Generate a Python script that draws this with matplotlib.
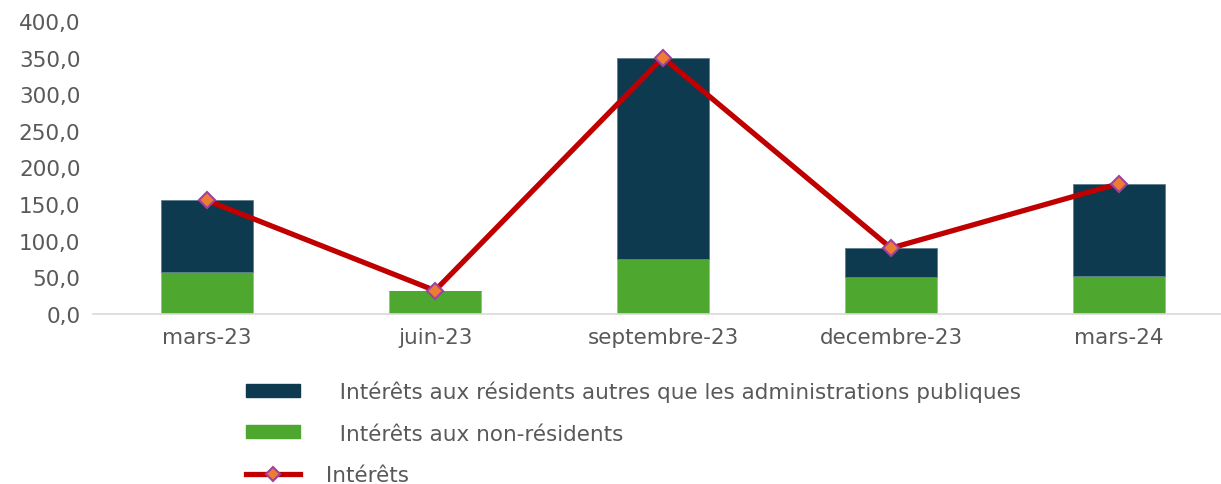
import matplotlib
matplotlib.use("Agg")
import matplotlib.pyplot as plt
from matplotlib.patches import Patch
from matplotlib.lines import Line2D

categories = ["mars-23", "juin-23", "septembre-23", "decembre-23", "mars-24"]
non_residents = [57.5, 31.5, 74.5, 50.0, 52.0]
residents = [97.5, 0.5, 275.5, 40.0, 126.0]
interets = [155.0, 32.0, 350.0, 90.0, 178.0]
yticks = [0, 50, 100, 150, 200, 250, 300, 350, 400]

plt.rcParams['font.family'] = ['DejaVu Sans']
fig = plt.figure(figsize=(12.21, 4.85), dpi=100)
ax = fig.add_axes([93/1221, 1 - 315/485, (1233 - 93)/1221, (315 - 22)/485])

x = list(range(len(categories)))
dark = "#0E3A4F"
green = "#4EA72E"
ax.bar(x, non_residents, width=0.4, color=green, edgecolor="#8fc77a", linewidth=0.6, zorder=2)
ax.bar(x, residents, width=0.4, bottom=non_residents, color=dark, edgecolor="#5d7f8f", linewidth=0.6, zorder=2)
ax.plot(x, interets, color="#C00000", linewidth=3.8, marker="D", markersize=8,
        markerfacecolor="#ED7D31", markeredgecolor="#A040A0", markeredgewidth=1.5, zorder=3)

ax.set_xlim(-0.5, 4.5)
ax.set_ylim(0, 400)
ax.set_yticks(yticks)
ax.set_yticklabels([f"{v:.1f}".replace(".", ",") for v in yticks])
ax.set_xticks(x)
ax.set_xticklabels(categories)
for s in ["top", "right", "left"]:
    ax.spines[s].set_visible(False)
ax.spines["bottom"].set_color("#d9d9d9")
ax.spines["bottom"].set_linewidth(1.2)
ax.tick_params(axis="x", length=0, labelsize=15.5, colors="#595959", pad=9)
ax.tick_params(axis="y", length=0, labelsize=15.5, colors="#595959", pad=9)

handles = [
    Patch(facecolor=dark, edgecolor=dark),
    Patch(facecolor=green, edgecolor=green),
    Line2D([0], [0], color="#C00000", linewidth=3.8, marker="D", markersize=7,
           markerfacecolor="#ED7D31", markeredgecolor="#A040A0", markeredgewidth=1.5),
]
labels = ["   Intérêts aux résidents autres que les administrations publiques",
          "   Intérêts aux non-résidents",
          " Intérêts"]
leg = fig.legend(handles, labels, loc="upper left", bbox_to_anchor=(246/1221, 1 - 382/485),
                 frameon=False, fontsize=15.5, labelcolor="#595959", handlelength=2.5,
                 handleheight=0.55, labelspacing=0.98, handletextpad=0.9, borderpad=0,
                 borderaxespad=0)

fig.savefig("out.png", dpi=100)
